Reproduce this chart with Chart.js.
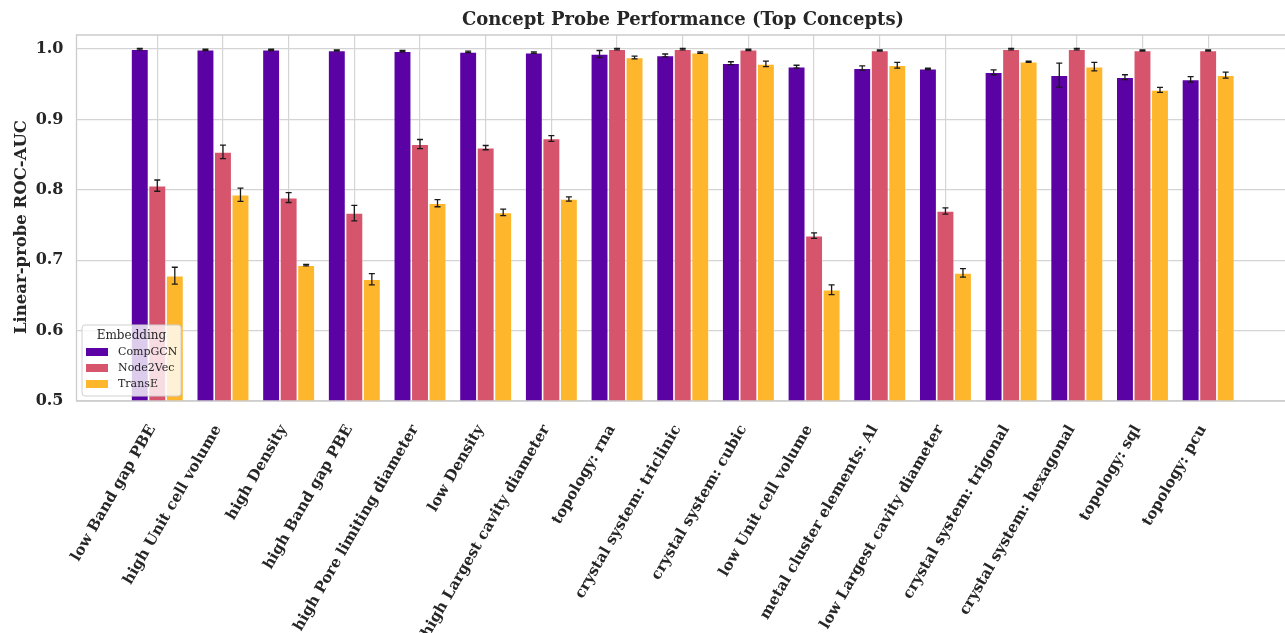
<!DOCTYPE html>
<html>
<head>
<meta charset="utf-8">
<title>Concept Probe Performance</title>
<script src="https://cdn.jsdelivr.net/npm/chart.js@4"></script>
<style>
  html, body { margin: 0; padding: 0; background: #fff; overflow: hidden; }
  canvas { display: block; }
</style>
</head>
<body>
<canvas id="probeChart" width="1285" height="633"></canvas>
<script>
// concept probe ROC-AUC per embedding, mean and error
const concepts = [
  "low Band gap PBE", "high Unit cell volume", "high Density", "high Band gap PBE",
  "high Pore limiting diameter", "low Density", "high Largest cavity diameter",
  "topology: rna", "crystal system: triclinic", "crystal system: cubic",
  "low Unit cell volume", "metal cluster elements: Al", "low Largest cavity diameter",
  "crystal system: trigonal", "crystal system: hexagonal", "topology: sql", "topology: pcu"
];
const compgcn    = [1.000, 0.999, 0.999, 0.998, 0.997, 0.996, 0.995, 0.993, 0.991, 0.980, 0.975, 0.973, 0.972, 0.967, 0.963, 0.960, 0.957];
const compgcnErr = [0.001, 0.001, 0.001, 0.001, 0.001, 0.001, 0.001, 0.005, 0.002, 0.002, 0.002, 0.003, 0.001, 0.0035, 0.017, 0.0035, 0.004];
const node2vec    = [0.806, 0.854, 0.789, 0.767, 0.865, 0.860, 0.873, 1.000, 1.000, 0.999, 0.735, 0.998, 0.770, 1.000, 1.000, 0.998, 0.998];
const node2vecErr = [0.008, 0.0095, 0.007, 0.011, 0.0065, 0.003, 0.004, 0.001, 0.001, 0.001, 0.004, 0.001, 0.0045, 0.001, 0.001, 0.001, 0.001];
const transe    = [0.678, 0.793, 0.693, 0.673, 0.781, 0.768, 0.787, 0.988, 0.995, 0.979, 0.658, 0.977, 0.682, 0.982, 0.975, 0.942, 0.963];
const transeErr = [0.012, 0.0095, 0.001, 0.008, 0.005, 0.0045, 0.003, 0.002, 0.001, 0.004, 0.007, 0.004, 0.006, 0.001, 0.006, 0.0035, 0.0043];
const yTicks = [0.5, 0.6, 0.7, 0.8, 0.9, 1.0];

const SERIF = "'DejaVu Serif', serif";
const GRID = "#d4d4d4";

function series(vals) { return vals.map((v, i) => ({ x: i, y: v })); }

// whisker lines with caps on top of each bar
const errorBars = {
  id: "errorBars",
  afterDatasetsDraw(chart) {
    const { ctx } = chart;
    const ys = chart.scales.y;
    ctx.save();
    ctx.strokeStyle = "#1a1a1a";
    ctx.lineWidth = 1.3;
    chart.data.datasets.forEach((ds, di) => {
      const meta = chart.getDatasetMeta(di);
      meta.data.forEach((bar, j) => {
        const v = ds.data[j].y, e = ds.errors[j];
        const y1 = ys.getPixelForValue(v + e), y2 = ys.getPixelForValue(v - e);
        ctx.beginPath();
        ctx.moveTo(bar.x, y1); ctx.lineTo(bar.x, y2);
        ctx.moveTo(bar.x - 3, y1); ctx.lineTo(bar.x + 3, y1);
        ctx.moveTo(bar.x - 3, y2); ctx.lineTo(bar.x + 3, y2);
        ctx.stroke();
      });
    });
    ctx.restore();
  }
};

// frame, title, y label and the boxed legend
const decorations = {
  id: "decorations",
  afterDraw(chart) {
    const { ctx, chartArea: a } = chart;
    ctx.save();
    ctx.strokeStyle = "#cccccc";
    ctx.lineWidth = 1.3;
    ctx.beginPath();
    ctx.moveTo(a.right + 2, a.top); ctx.lineTo(a.left, a.top);
    ctx.lineTo(a.left, a.bottom); ctx.lineTo(a.right + 2, a.bottom);
    ctx.stroke();

    ctx.fillStyle = "#262626";
    ctx.font = "bold 18px " + SERIF;
    ctx.textAlign = "center";
    ctx.textBaseline = "middle";
    ctx.fillText("Concept Probe Performance (Top Concepts)", 683, 20);

    ctx.save();
    ctx.translate(22, 227);
    ctx.rotate(-Math.PI / 2);
    ctx.font = "bold 16.5px " + SERIF;
    ctx.fillText("Linear-probe ROC-AUC", 0, 0);
    ctx.restore();

    // legend box
    const lx = 82, ly = 325, lw = 99, lh = 71;
    ctx.beginPath();
    ctx.roundRect(lx, ly, lw, lh, 3);
    ctx.fillStyle = "rgba(255,255,255,0.8)";
    ctx.fill();
    ctx.strokeStyle = "#d0d0d0";
    ctx.lineWidth = 1;
    ctx.stroke();
    ctx.fillStyle = "#262626";
    ctx.font = "12px " + SERIF;
    ctx.textAlign = "center";
    ctx.fillText("Embedding", lx + lw / 2, ly + 11);
    ctx.textAlign = "left";
    ctx.font = "11px " + SERIF;
    chart.data.datasets.forEach((ds, i) => {
      const ry = ly + 27 + i * 16;
      ctx.fillStyle = ds.backgroundColor;
      ctx.fillRect(lx + 4, ry - 4, 22, 8);
      ctx.fillStyle = "#262626";
      ctx.fillText(ds.label, lx + 36, ry);
    });
    ctx.restore();
  }
};

new Chart(document.getElementById("probeChart"), {
  type: "bar",
  data: {
    datasets: [
      { label: "CompGCN",  data: series(compgcn),  errors: compgcnErr,  backgroundColor: "#5a02a4" },
      { label: "Node2Vec", data: series(node2vec), errors: node2vecErr, backgroundColor: "#d6556d" },
      { label: "TransE",   data: series(transe),   errors: transeErr,   backgroundColor: "#feb72d" }
    ]
  },
  options: {
    responsive: false,
    animation: false,
    layout: { padding: { top: 35, right: 0, left: 0, bottom: 0 } },
    datasets: {
      bar: {
        categoryPercentage: 0.8,
        barPercentage: 1.0,
        borderWidth: 0.8,
        borderColor: "rgba(255,255,255,0.35)",
        borderSkipped: false
      }
    },
    plugins: { legend: { display: false }, tooltip: { enabled: false }, title: { display: false } },
    scales: {
      x: {
        type: "linear",
        offset: false,
        min: -1.23,
        max: 17.17,
        afterBuildTicks: s => { s.ticks = concepts.map((_, i) => ({ value: i })); },
        afterFit: s => { s.height = 232; s.paddingLeft = 0; s.paddingRight = 0; },
        grid: { color: GRID, lineWidth: 1.2, drawTicks: false, offset: false },
        border: { display: false },
        ticks: {
          autoSkip: false,
          minRotation: 60,
          maxRotation: 60,
          padding: 21,
          labelOffset: -5,
          color: "#262626",
          font: { family: SERIF, size: 15, weight: "bold" },
          callback: v => concepts[v]
        }
      },
      y: {
        min: 0.5,
        max: 1.02,
        afterBuildTicks: s => { s.ticks = yTicks.map(v => ({ value: v })); },
        afterFit: s => { s.width = 76.5; },
        grid: { color: GRID, lineWidth: 1.2, drawTicks: false },
        border: { display: false },
        ticks: {
          padding: 13,
          color: "#262626",
          font: { family: SERIF, size: 16, weight: "bold" },
          callback: v => v.toFixed(1)
        }
      }
    }
  },
  plugins: [errorBars, decorations]
});
</script>
</body>
</html>
